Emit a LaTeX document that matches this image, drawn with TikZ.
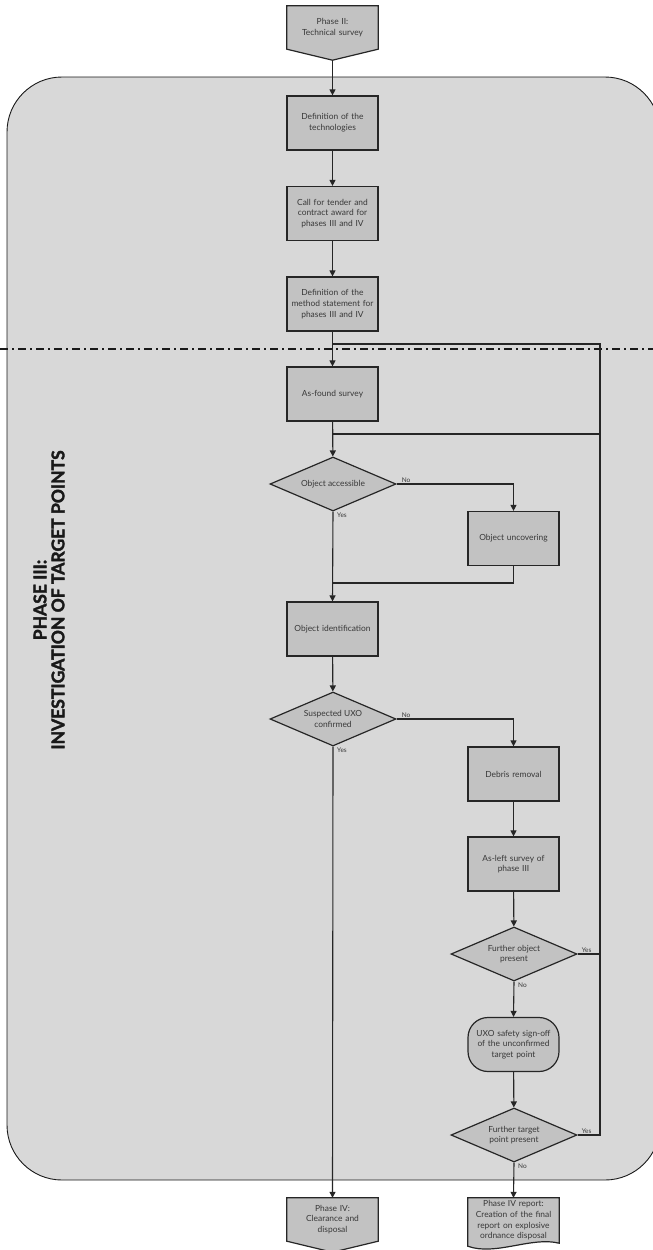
\documentclass[tikz,border=0pt]{standalone}
\usepackage{fontspec}
\setmainfont{Lato}
\newfontfamily\titlefont{Lato}[FakeBold=2]
\usetikzlibrary{arrows.meta,shapes.geometric,calc}
\definecolor{panel}{HTML}{D8D8D8}
\definecolor{boxfill}{HTML}{C2C2C2}
\definecolor{ink}{HTML}{383838}
\pgfdeclarelayer{bg}
\pgfsetlayers{bg,main}

\begin{document}
\begin{tikzpicture}[x=1pt,y=-1pt,
  flow/.style={draw=black!85,line width=1.1pt},
  arr/.style={flow,-{Triangle[length=6pt,width=6pt]}},
  boxtext/.style={font=\fontsize{8.4}{10.7}\selectfont,text=ink,align=center},
  stepbox/.style={boxtext,draw=black!85,fill=boxfill,line width=1.2pt,
    minimum width=91pt,minimum height=54pt,inner sep=1pt,text width=89pt},
  endbox/.style={stepbox,rounded corners=20pt},
  decision/.style={boxtext,diamond,draw=black!85,fill=boxfill,line width=1.2pt,
    minimum width=126pt,minimum height=54pt,inner sep=0pt,aspect=2.33},
  framebox/.style={boxtext,minimum width=91pt,minimum height=43pt,inner sep=1pt,text width=89pt},
  outline/.style={draw=black!85,fill=boxfill,line width=1.2pt},
  lbl/.style={font=\fontsize{6.5}{8}\selectfont,text=ink,inner sep=1pt},
]
\useasboundingbox (0,0) rectangle (653,1250);

% phase panel
\begin{pgfonlayer}{bg}
  \draw[fill=panel,draw=black!90,line width=0.9pt,rounded corners=55pt] (7,77) rectangle (660,1180);
\end{pgfonlayer}

% separator between planning and field work
\draw[black!90,line width=1.5pt,dash pattern=on 8pt off 4pt on 2pt off 4pt] (0,349) -- (653,349);

% panel title
\node[rotate=90,align=center,font=\titlefont\bfseries\fontsize{17.5}{18}\selectfont,text=black!90] (title) at (49,600)
  {PHASE III:\\INVESTIGATION OF TARGET POINTS};

% off-page connectors
\node[framebox] (p2) at (332.5,27.5) {Phase II:\\Technical survey};
\coordinate (p2tip) at ($(p2.south)+(0,11)$);
\node[framebox] (p4) at (332.5,1219.5) {Phase IV:\\Clearance and\\disposal};
\coordinate (p4tip) at ($(p4.south)+(0,11)$);
\node[framebox,minimum height=45pt] (rep) at (513.5,1220.5) {Phase IV report:\\Creation of the final\\report on explosive\\ordnance disposal};
\begin{pgfonlayer}{bg}
  \draw[outline] (p2.north west) -- (p2.north east) -- (p2.south east) -- (p2tip) -- (p2.south west) -- cycle;
  \draw[outline] (p4.north west) -- (p4.north east) -- (p4.south east) -- (p4tip) -- (p4.south west) -- cycle;
  \draw[outline] (rep.south east) -- (rep.north east) -- (rep.north west) -- ($(rep.south west)+(0,3)$)
    .. controls ($(rep.south)+(-18,13)$) and ($(rep.south)+(18,-7)$) .. (rep.south east) -- cycle;
\end{pgfonlayer}

% process steps
\node[stepbox] (tech) at (332.5,123) {Definition of the\\technologies};
\node[stepbox] (tender) at (332.5,213.5) {Call for tender and\\contract award for\\phases III and IV};
\node[stepbox] (method) at (332.5,304) {Definition of the\\method statement for\\phases III and IV};
\node[stepbox] (asfound) at (332.5,394) {As-found survey};
\node[decision] (access) at (333,484) {Object accessible};
\node[stepbox] (uncover) at (513.5,538.5) {Object uncovering};
\node[stepbox] (ident) at (332.5,629) {Object identification};
\node[decision] (confirm) at (333,719) {Suspected UXO\\confirmed};
\node[stepbox] (debris) at (513.5,774) {Debris removal};
\node[stepbox] (asleft) at (513.5,864) {As-left survey of\\phase III};
\node[decision] (further) at (514,954) {Further object\\present};
\node[endbox] (signoff) at (513.5,1044.5) {UXO safety sign-off\\of the unconfirmed\\target point};
\node[decision] (target) at (514,1135) {Further target\\point present};

% junctions of the return loop
\coordinate (j1) at (332.5,344);
\coordinate (j2) at (332.5,434);
\coordinate (j3) at (332.5,583);
\coordinate (loopA) at (600,344);
\coordinate (loopB) at (600,434);
\coordinate (loopC) at (600,954);
\coordinate (loopD) at (600,1135);

% main flow
\draw[arr] (p2tip) -- (tech);
\draw[arr] (tech) -- (tender);
\draw[arr] (tender) -- (method);
\draw[arr] (method) -- (asfound);
\draw[arr] (asfound) -- (access);
\draw[arr] (access.east) -| (uncover.north);
\draw[arr] (access.south) -- (ident.north);
\draw[flow] (uncover.south) |- (j3);
\draw[arr] (ident) -- (confirm);
\draw[arr] (confirm.east) -| (debris.north);
\draw[arr] (confirm.south) -- (p4.north);
\draw[arr] (debris) -- (asleft);
\draw[arr] (asleft) -- (further);
\draw[arr] (further.south) -- (signoff.north);
\draw[arr] (signoff) -- (target);
\draw[arr] (target.south) -- (rep.north);

% return loop
\draw[flow] (target.east) -- (loopD) -- (loopA) -- (j1);
\draw[flow] (further.east) -- (loopC);
\draw[flow] (j2) -- (loopB);

% branch labels
\node[lbl,anchor=south west,xshift=4pt] (accNo) at (access.east) {No};
\node[lbl,anchor=north west,xshift=3pt] (accYes) at (access.south) {Yes};
\node[lbl,anchor=south west,xshift=4pt] (confNo) at (confirm.east) {No};
\node[lbl,anchor=north west,xshift=3pt] (confYes) at (confirm.south) {Yes};
\node[lbl,anchor=south west,xshift=3pt] (furYes) at (further.east) {Yes};
\node[lbl,anchor=north west,xshift=3pt] (furNo) at (further.south) {No};
\node[lbl,anchor=south west,xshift=3pt] (tarYes) at (target.east) {Yes};
\node[lbl,anchor=north west,xshift=3pt] (tarNo) at (target.south) {No};
\end{tikzpicture}
\end{document}
